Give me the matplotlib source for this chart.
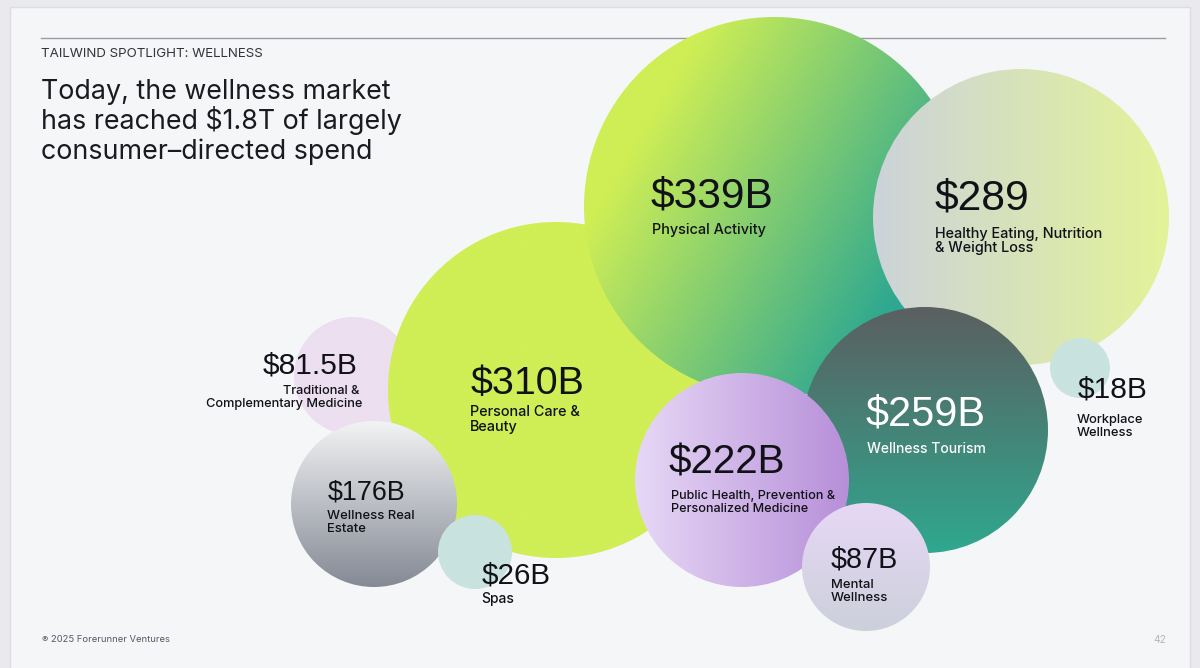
import numpy as np
import matplotlib
matplotlib.use("Agg")
import matplotlib.pyplot as plt
from matplotlib.patches import Circle, Rectangle
from matplotlib.colors import to_rgb

plt.rcParams['font.family'] = ['Inter', 'DejaVu Sans']

# Bubbles, back to front
values = ["$81.5B", "$310B", "$339B", "$289", "$259B", "$222B", "$87B", "$18B", "$176B", "$26B"]
labels = [["Traditional &", "Complementary Medicine"], ["Personal Care &", "Beauty"],
          ["Physical Activity"], ["Healthy Eating, Nutrition", "& Weight Loss"],
          ["Wellness Tourism"], ["Public Health, Prevention &", "Personalized Medicine"],
          ["Mental", "Wellness"], ["Workplace", "Wellness"], ["Wellness Real", "Estate"], ["Spas"]]
center_x = [353, 556, 774, 1021, 925, 742, 866, 1080, 374, 475]
center_y = [376, 390, 207, 217, 430, 480, 567, 368, 504, 552]
radius = [59, 168, 190, 148, 123, 107, 64, 30, 83, 37]
color_start = ["#ecdff0", "#d0ee55", "#cfee55", "#ccd3da", "#5b5f60", "#e7d8f6", "#e7d8f6", "#c9e3df", "#f2f3f4", "#c9e3df"]
color_end = ["#ecdff0", "#d0ee55", "#2ea890", "#e3f398", "#2fa88f", "#b78fd9", "#ccd0db", "#c9e3df", "#848994", "#c9e3df"]
gradient_deg = [0, 0, 30, 0, 90, 0, 90, 0, 90, 0]
gradient_gain = [1, 1, 1.25, 1, 1, 1, 1, 1, 1, 1]

# Text placement
value_x = [358, 471, 651, 935, 866, 669, 831, 1078, 328, 482]
value_y = [373, 394, 207, 209, 426, 474, 568, 398, 500, 583]
value_size = [21.6, 28.4, 30.6, 30.7, 29.9, 29.1, 20.7, 21.6, 19.4, 21.3]
label_x = [362, 470, 652, 935, 867, 671, 831, 1077, 327, 481]
label_y = [[394, 407], [416, 431], [234], [238, 252], [453], [499, 512], [588, 601], [423, 436], [519, 532], [603]]
label_size = [9.2, 10.4, 10.4, 10.4, 10.0, 9.1, 9.4, 9.3, 9.4, 10.0]
text_colors = ["#111118"] * 4 + ["#ffffff"] + ["#111118"] * 5
right_aligned = [True] + [False] * 9

title_lines = ["Today, the wellness market", "has reached $1.8T of largely", "consumer\u2013directed spend"]
title_y = [99, 129, 159]
kicker = "TAILWIND SPOTLIGHT: WELLNESS"
footer = "\u00ae 2025 Forerunner Ventures"
page = "42"

fig = plt.figure(figsize=(12, 6.68), dpi=100, facecolor="#e9e9ee")
ax = fig.add_axes([0, 0, 1, 1])
ax.axis("off")
ax.add_patch(Rectangle((10, 7), 1180, 680, fc="#f5f6f8", ec="#dcdce2", lw=1, zorder=0))
ax.plot([41, 1165], [38, 38], color="#9a9ca4", lw=1.0, zorder=1)

for i, (cx, cy, r) in enumerate(zip(center_x, center_y, radius)):
    t = np.linspace(-1, 1, 512)
    gx, gy = np.meshgrid(t, t)
    a = np.deg2rad(gradient_deg[i])
    f = np.clip((gradient_gain[i] * (gx * np.cos(a) + gy * np.sin(a)) + 1) / 2, 0, 1)[..., None]
    img = (1 - f) * np.array(to_rgb(color_start[i])) + f * np.array(to_rgb(color_end[i]))
    im = ax.imshow(img, extent=(cx - r, cx + r, cy + r, cy - r), zorder=2 + i, interpolation="bilinear")
    im.set_clip_path(Circle((cx, cy), r, transform=ax.transData))

for i, v in enumerate(values):
    ha = "right" if right_aligned[i] else "left"
    ax.text(value_x[i], value_y[i], v, fontsize=value_size[i], color=text_colors[i], ha=ha, va="baseline",
            zorder=20, family="Liberation Sans")
    for line, y in zip(labels[i], label_y[i]):
        ax.text(label_x[i] - (3 if right_aligned[i] and line.startswith("Trad") else 0), y, line,
                fontsize=label_size[i], color=text_colors[i], ha=ha, va="baseline", zorder=20, fontweight="medium")

ax.text(41, 57, kicker, fontsize=9.6, color="#33343a", va="baseline", zorder=20)
for line, y in zip(title_lines, title_y):
    ax.text(41, y, line, fontsize=19.3, color="#1a1b20", va="baseline", zorder=20)
ax.text(42, 642, footer, fontsize=6.8, color="#555a68", va="baseline", zorder=20)
ax.text(1160, 643, page, fontsize=7.5, color="#b5b7bd", ha="center", va="baseline", zorder=20)

ax.set_xlim(0, 1200)
ax.set_ylim(668, 0)
ax.set_aspect("auto")
fig.savefig("out.png", dpi=100, facecolor=fig.get_facecolor())
